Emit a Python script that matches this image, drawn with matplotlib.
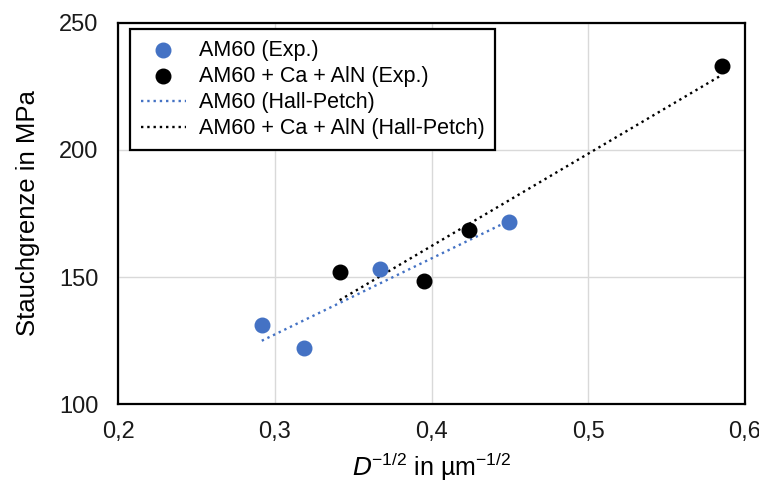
import numpy as np
import matplotlib.pyplot as plt
from matplotlib.ticker import FuncFormatter, MultipleLocator

plt.rcParams['font.family'] = ['Liberation Sans', 'DejaVu Sans']

# Messwerte (Korngroesse^-1/2 vs. Stauchgrenze)
am60_x = [0.2917, 0.3185, 0.3669, 0.4497]
am60_y = [131.1, 122.0, 153.1, 171.7]
caaln_x = [0.3414, 0.3949, 0.4242, 0.5854]
caaln_y = [152.0, 148.4, 168.5, 233.1]

# Hall-Petch-Geraden (Endpunkte)
am60_hp_x = [0.2917, 0.4497]
am60_hp_y = [124.9, 172.2]
caaln_hp_x = [0.3414, 0.5854]
caaln_hp_y = [140.9, 229.6]

blue = '#4472C4'

fig = plt.figure(figsize=(7.59, 4.82), dpi=100)
ax = fig.add_axes([0.1555, 0.1618, 0.8261, 0.7905])

ax.scatter(am60_x, am60_y, s=110, color=blue, zorder=3, label='AM60 (Exp.)')
ax.scatter(caaln_x, caaln_y, s=110, color='black', zorder=3, label='AM60 + Ca + AlN (Exp.)')
ax.plot(am60_hp_x, am60_hp_y, ':', color=blue, lw=1.7, zorder=2, label='AM60 (Hall-Petch)')
ax.plot(caaln_hp_x, caaln_hp_y, ':', color='black', lw=1.7, zorder=2, label='AM60 + Ca + AlN (Hall-Petch)')

ax.set_xlim(0.2, 0.6)
ax.set_ylim(100, 250)
ax.xaxis.set_major_locator(MultipleLocator(0.1))
ax.yaxis.set_major_locator(MultipleLocator(50))
ax.xaxis.set_major_formatter(FuncFormatter(lambda v, p: f"{v:.1f}".replace('.', ',')))
ax.tick_params(length=0, labelsize=17, colors='#1a1a1a')
ax.tick_params(axis='x', pad=12)
ax.tick_params(axis='y', pad=14)
ax.grid(True, color='#d9d9d9', lw=1)
ax.set_axisbelow(True)
for sp in ax.spines.values():
    sp.set_linewidth(1.6)
    sp.set_color('black')

ax.set_xlabel(r'$D$$^{\mathregular{-1/2}}$ in µm$^{\mathregular{-1/2}}$', fontsize=18, labelpad=6)
ax.set_ylabel('Stauchgrenze in MPa', fontsize=18.5, labelpad=14)

leg = ax.legend(loc='upper left', bbox_to_anchor=(0.019, 0.984), borderaxespad=0,
                fontsize=15.5, frameon=True, fancybox=False, framealpha=1,
                edgecolor='black', handlelength=2.1, handletextpad=0.6,
                labelspacing=0.24, borderpad=0.5)
leg.get_frame().set_linewidth(1.6)

fig.savefig('out.png', dpi=100)
